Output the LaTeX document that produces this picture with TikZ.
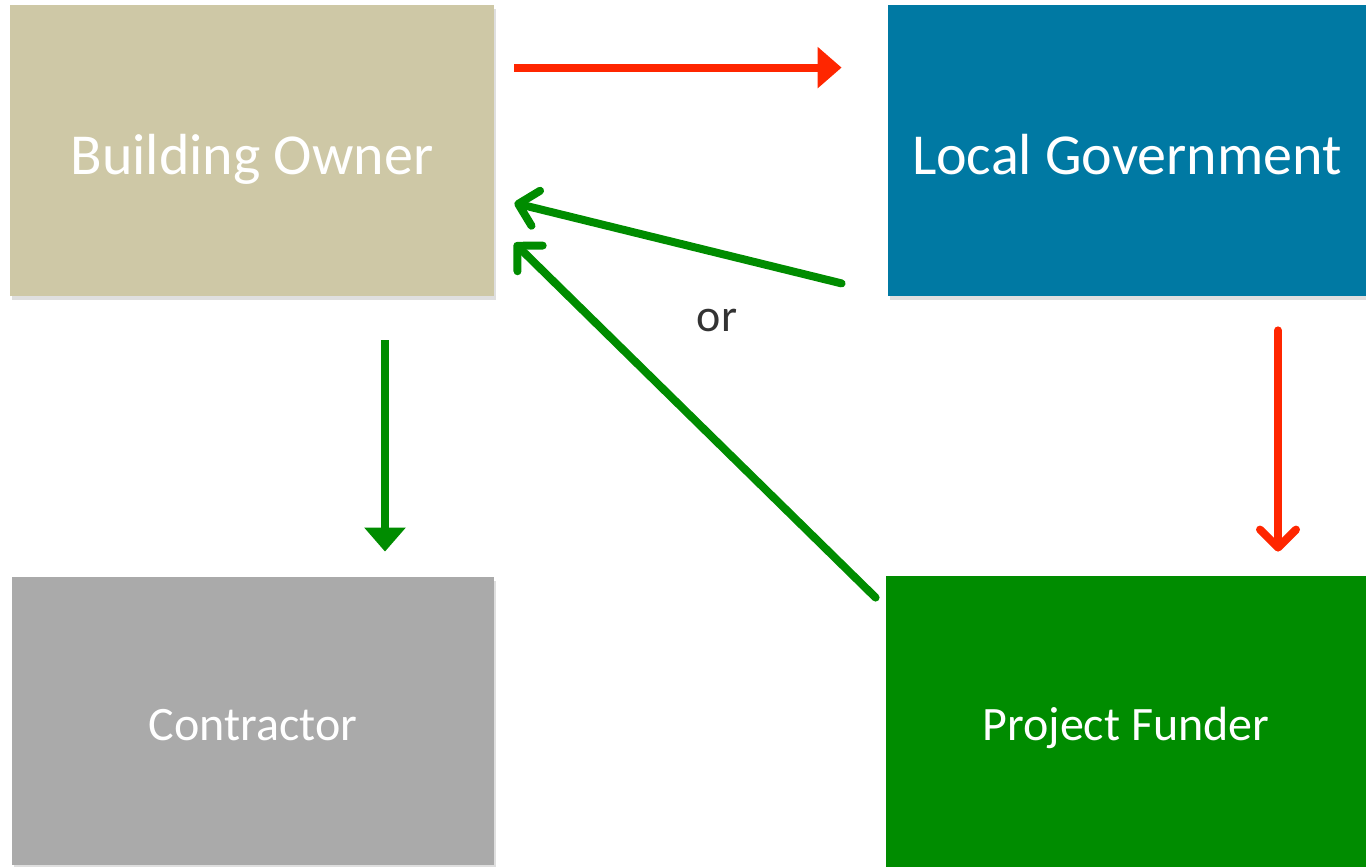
\documentclass[tikz,border=0pt]{standalone}
\usepackage{fontspec}
\setmainfont{Carlito}
\usetikzlibrary{arrows.meta,calc,shadows}

\definecolor{ownertan}{HTML}{CEC8A6}
\definecolor{govblue}{HTML}{0079A3}
\definecolor{contractgray}{HTML}{AAAAAA}
\definecolor{fundgreen}{HTML}{008C00}
\definecolor{arrowred}{HTML}{FF2600}
\definecolor{arrowgreen}{HTML}{008C00}
\definecolor{textgray}{HTML}{333333}

\tikzset{
  party/.style={rectangle, inner sep=0pt, text=white, text depth=0pt,
    drop shadow={shadow xshift=1pt, shadow yshift=-2pt, opacity=0.25}},
  bigparty/.style={party, text height=24pt, font=\fontsize{29}{34}\selectfont},
  smallparty/.style={party, text height=19pt, font=\fontsize{24}{29}\selectfont},
  solidarrow/.style={line width=4pt, -{Triangle[length=12pt,width=20pt]}},
  openarrow/.style={line width=4pt, line cap=round,
    -{Straight Barb[length=9pt,width=18pt,line cap=round,round]}},
}

\begin{document}
\begin{tikzpicture}[x=0.5pt,y=-0.5pt]
  \useasboundingbox (0,0) rectangle (1366,867);

  % the four parties
  \node[bigparty, fill=ownertan, minimum width=242pt, minimum height=145.5pt]
    (owner) at (252,150.5) {Building Owner};
  \node[bigparty, fill=govblue, minimum width=239pt, minimum height=145.5pt]
    (gov) at (1127,150.5) {Local Government};
  \node[smallparty, fill=contractgray, minimum width=241pt, minimum height=144pt]
    (contractor) at (253,721) {Contractor};
  \node[smallparty, fill=fundgreen, minimum width=240pt, minimum height=145.5pt]
    (funder) at (1126,721.5) {Project Funder};

  \node[text=textgray, font=\fontsize{23}{28}\selectfont] (orlabel) at (717,320) {or};

  % red arrows
  \draw[solidarrow, arrowred] ($(owner.north east)+(20,63)$) -- ($(gov.north west)+(-46,63)$);
  \draw[openarrow, arrowred] ($(gov.south)+(151,34)$) -- ($(funder.north)+(152,-24)$);

  % green arrows
  \draw[openarrow, arrowgreen] ($(gov.south west)+(-46,-13)$) -- ($(owner.east)+(20,52.5)$);
  \draw[openarrow, arrowgreen] ($(funder.north west)+(-10,22)$) -- ($(owner.east)+(20,92.5)$);
  \draw[solidarrow, arrowgreen] ($(owner.south)+(133,44)$) -- ($(contractor.north)+(132,-25)$);

\end{tikzpicture}
\end{document}
